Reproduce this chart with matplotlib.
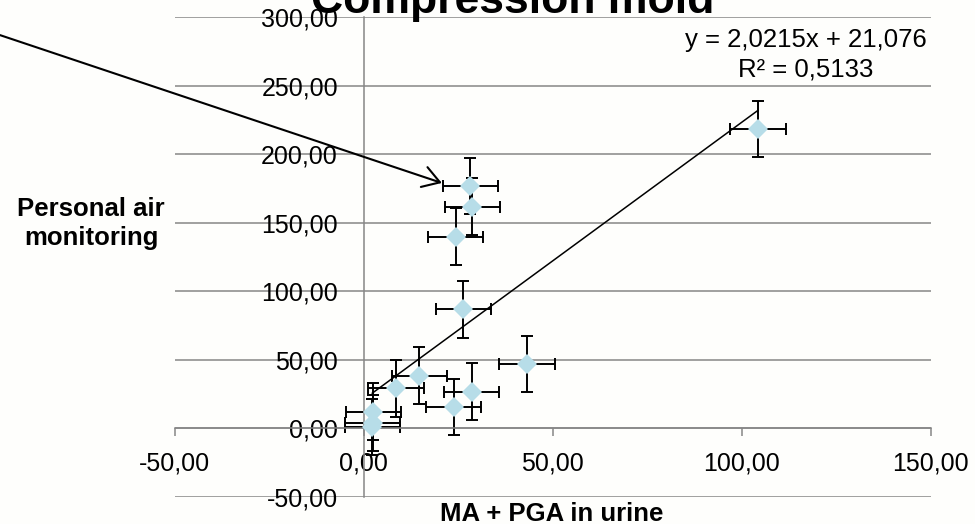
import numpy as np
import matplotlib
matplotlib.use("Agg")
import matplotlib.pyplot as plt

plt.rcParams['font.family'] = ['Liberation Sans', 'DejaVu Sans']

# data
ma_pga = [104.3, 28.2, 28.8, 24.4, 26.4, 43.2, 28.6, 23.8, 14.7, 8.6, 2.6, 2.4, 2.3]
air = [218.2, 176.9, 161.8, 139.9, 86.9, 47.0, 26.8, 15.5, 38.5, 29.3, 12.3, 4.0, 1.0]
x_err = 7.3
y_err = 20.6

slope = 2.0215
intercept = 21.076
equation = "y = 2,0215x + 21,076\nR² = 0,5133"

x_ticks = [-50, 0, 50, 100, 150]
x_tick_labels = ["-50,00", "0,00", "50,00", "100,00", "150,00"]
y_ticks = [-50, 0, 50, 100, 150, 200, 250, 300]
y_tick_labels = ["-50,00", "0,00", "50,00", "100,00", "150,00", "200,00", "250,00", "300,00"]

grey = "#868686"
bg = "#fefefc"
marker_col = "#b7dde8"

fig = plt.figure(figsize=(9.75, 5.24), dpi=100, facecolor=bg)
ax = fig.add_axes([0.179, 0.0515, 0.7756, 0.916], facecolor=bg)

# error bars first, markers on top
ax.errorbar(ma_pga, air, xerr=x_err, yerr=y_err, fmt='none', ecolor='black',
            elinewidth=1.4, capsize=4.5, capthick=1.4, zorder=2)
ax.plot(ma_pga, air, 'D', ms=10, mfc=marker_col, mec=marker_col, mew=0, zorder=3)

# trend line over the data range
xs = np.array([min(ma_pga), max(ma_pga)])
ax.plot(xs, np.polyval([slope, intercept], xs), color='black', lw=1.1, zorder=4)

ax.set_xlim(-50, 150)
ax.set_ylim(-50, 300)

for s in ['top', 'right']:
    ax.spines[s].set_visible(False)
ax.spines['bottom'].set_position(('data', 0))
ax.spines['left'].set_position(('data', 0))
ax.spines['bottom'].set_color(grey)
ax.spines['left'].set_color(grey)
ax.spines['bottom'].set_linewidth(1.1)
ax.spines['left'].set_linewidth(1.1)

ax.set_xticks(x_ticks)
ax.set_xticklabels(x_tick_labels)
ax.set_yticks(y_ticks)
ax.set_yticklabels(y_tick_labels)
ax.tick_params(axis='x', direction='out', length=5.5, width=1.1, color=grey,
               pad=11, labelsize=18)
ax.tick_params(axis='y', length=0, pad=18.5, labelsize=18)
ax.yaxis.grid(True, color=grey, lw=1.1)
ax.set_axisbelow(True)

ax.text(0.835, 0.977, equation, transform=ax.transAxes, ha='center', va='top',
        fontsize=18.5, linespacing=1.3)

ax.annotate("", xy=(20.7, 179), xytext=(0, 0.933), textcoords='figure fraction',
            arrowprops=dict(arrowstyle='->,head_length=0.4,head_width=0.25',
                            color='black', lw=1.5, mutation_scale=30,
                            shrinkA=0, shrinkB=0),
            annotation_clip=False)

fig.text(0.526, 0.975, "Compression mold", ha='center', va='baseline',
         fontsize=32, fontweight='bold')
fig.text(0.0933, 0.574, "Personal air\nmonitoring", ha='center', va='center',
         fontsize=18.5, fontweight='bold', linespacing=1.25)
fig.text(0.566, 0.006, "MA + PGA in urine", ha='center', va='baseline',
         fontsize=18.5, fontweight='bold')

fig.savefig("out.png", dpi=100, facecolor=bg)
